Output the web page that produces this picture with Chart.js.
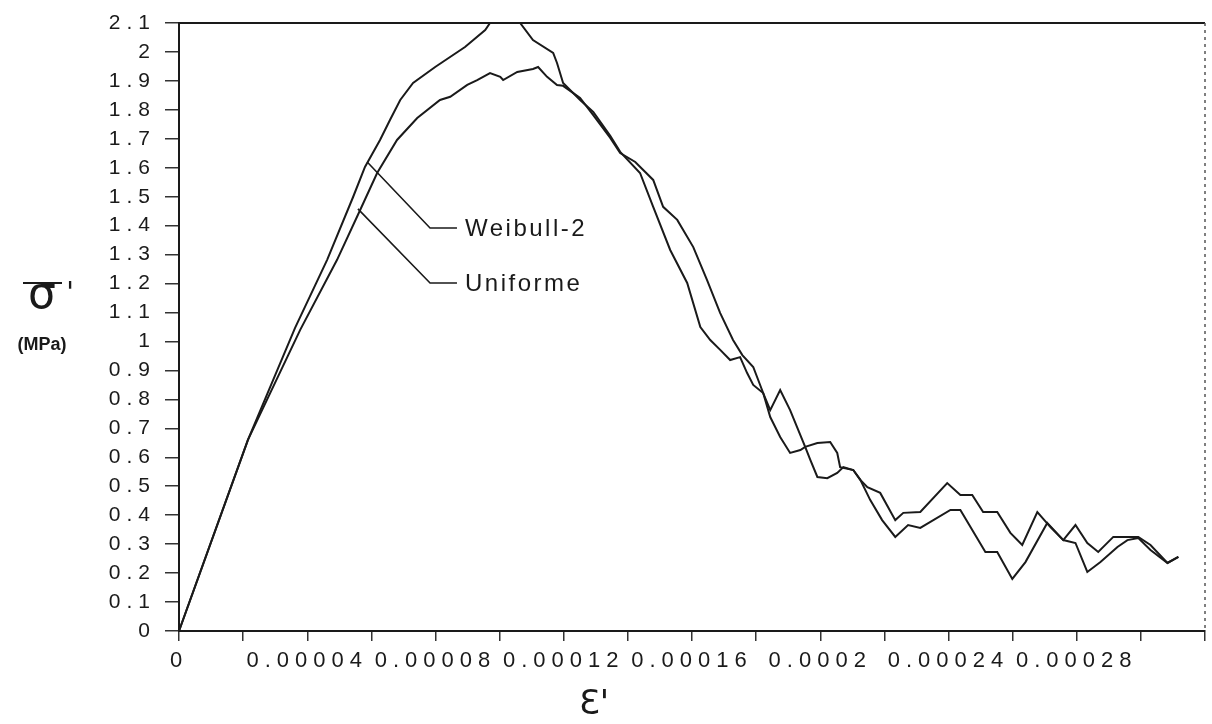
<!DOCTYPE html>
<html>
<head>
<meta charset="utf-8">
<title>Contrainte moyenne - déformation</title>
<script src="https://cdn.jsdelivr.net/npm/chart.js@4.4.1/dist/chart.umd.min.js"></script>
<style>
  html, body { margin: 0; padding: 0; background: #fff; }
  #wrap { width: 1212px; height: 724px; }
</style>
</head>
<body>
<div id="wrap"><canvas id="stressStrain" width="1212" height="724"></canvas></div>
<script>
// strain (x) and mean stress in MPa (y) for each strength distribution
const weibullStrain = [0, 21.5e-6, 36.2e-6, 46.2e-6, 54.3e-6, 58.0e-6, 62.7e-6, 65.8e-6, 69.0e-6, 73.0e-6,
    79.9e-6, 89.2e-6, 95.5e-6, 97.0e-6, 103.3e-6, 106.4e-6, 110.4e-6, 116.7e-6, 117.9e-6, 119.8e-6,
    125.1e-6, 129.2e-6, 134.5e-6, 137.6e-6, 143.8e-6, 147.9e-6, 153.2e-6, 158.5e-6, 162.6e-6, 165.7e-6,
    168.8e-6, 171.9e-6, 175.0e-6, 177.2e-6, 179.1e-6, 182.2e-6, 184.4e-6, 187.5e-6, 190.6e-6, 195.3e-6,
    196.9e-6, 199.1e-6, 202.2e-6, 205.3e-6, 207.2e-6, 210.3e-6, 212.5e-6, 214.7e-6, 218.7e-6, 223.4e-6,
    225.9e-6, 231.2e-6, 239.6e-6, 243.7e-6, 247.4e-6, 250.8e-6, 255.2e-6, 259.3e-6, 263.0e-6, 267.7e-6,
    271.8e-6, 275.8e-6, 279.6e-6, 283.3e-6, 286.7e-6, 291.4e-6, 299.2e-6, 303.0e-6, 308.3e-6, 311.7e-6];
const weibullStress = [0, 0.66, 1.047, 1.282, 1.499, 1.603, 1.696, 1.765, 1.834, 1.893,
    1.948, 2.017, 2.076, 2.10, 2.10, 2.10, 2.041, 1.997, 1.962, 1.893,
    1.834, 1.793, 1.710, 1.655, 1.582, 1.465, 1.316, 1.202, 1.050, 1.005,
    0.971, 0.936, 0.946, 0.891, 0.850, 0.822, 0.763, 0.832, 0.763, 0.636,
    0.591, 0.532, 0.528, 0.546, 0.566, 0.556, 0.522, 0.497, 0.477, 0.383,
    0.408, 0.411, 0.511, 0.470, 0.470, 0.411, 0.411, 0.339, 0.297, 0.411,
    0.359, 0.314, 0.366, 0.304, 0.273, 0.325, 0.325, 0.297, 0.235, 0.256];

const uniformeStrain = [0, 21.5e-6, 37.8e-6, 49.3e-6, 56.5e-6, 61.8e-6, 68.0e-6, 74.3e-6, 81.4e-6, 84.6e-6,
    89.9e-6, 93.0e-6, 97.0e-6, 100.2e-6, 101.1e-6, 105.5e-6, 110.4e-6, 112.0e-6, 114.8e-6, 117.9e-6,
    119.8e-6, 125.1e-6, 129.2e-6, 134.5e-6, 137.6e-6, 142.3e-6, 147.9e-6, 151.0e-6, 155.4e-6, 160.4e-6,
    164.7e-6, 168.8e-6, 172.8e-6, 175.7e-6, 179.1e-6, 182.2e-6, 184.4e-6, 187.5e-6, 190.6e-6, 193.8e-6,
    195.3e-6, 199.1e-6, 203.1e-6, 205.3e-6, 206.2e-6, 210.3e-6, 212.5e-6, 215.6e-6, 219.3e-6, 223.4e-6,
    227.4e-6, 231.2e-6, 240.6e-6, 243.7e-6, 251.5e-6, 255.2e-6, 259.9e-6, 264.0e-6, 270.8e-6, 275.8e-6,
    279.6e-6, 283.3e-6, 287.4e-6, 292.7e-6, 295.8e-6, 299.2e-6, 303.0e-6, 308.3e-6, 311.7e-6];
const uniformeStress = [0, 0.66, 1.040, 1.282, 1.454, 1.582, 1.696, 1.772, 1.834, 1.845,
    1.886, 1.903, 1.927, 1.914, 1.903, 1.931, 1.941, 1.948, 1.914, 1.886,
    1.883, 1.841, 1.782, 1.703, 1.651, 1.620, 1.558, 1.465, 1.420, 1.326,
    1.212, 1.098, 1.005, 0.953, 0.912, 0.822, 0.739, 0.670, 0.615, 0.625,
    0.636, 0.649, 0.653, 0.615, 0.566, 0.556, 0.522, 0.452, 0.383, 0.325,
    0.366, 0.356, 0.418, 0.418, 0.273, 0.273, 0.180, 0.238, 0.373, 0.314,
    0.304, 0.204, 0.238, 0.290, 0.314, 0.321, 0.280, 0.235, 0.256];

const xTickLabels = ['0', '0.00004', '0.00008', '0.00012', '0.00016', '0.0002', '0.00024', '0.00028'];
const yTickLabels = ['0', '0.1', '0.2', '0.3', '0.4', '0.5', '0.6', '0.7', '0.8', '0.9', '1',
    '1.1', '1.2', '1.3', '1.4', '1.5', '1.6', '1.7', '1.8', '1.9', '2', '2.1'];

const seriesNames = ['Weibull-2', 'Uniforme'];
// leader lines: point on the curve -> elbow -> label, in data units
const calloutTip = [[58.7e-6, 1.62], [55.8e-6, 1.458]];
const calloutElbow = [[78.3e-6, 1.392], [78.3e-6, 1.202]];
const calloutTailEnd = 86.7e-6;
const calloutTextAt = 89.2e-6;

const ink = '#1a1a1a';
const labelFont = 'Liberation Sans, Arial, sans-serif';

function toPoints(xs, ys) {
    return xs.map((x, i) => ({ x: x, y: ys[i] }));
}

const framePlugin = {
    id: 'frame',
    beforeDraw(chart) {
        chart.ctx.letterSpacing = '6px';
    },
    beforeDatasetsDraw(chart) {
        const ctx = chart.ctx;
        const a = chart.chartArea;
        ctx.save();
        ctx.strokeStyle = ink;
        ctx.lineWidth = 2;
        ctx.beginPath();
        ctx.moveTo(a.left, a.top);
        ctx.lineTo(a.right, a.top);
        ctx.stroke();
        // right edge is a light dotted rule
        ctx.strokeStyle = '#555';
        ctx.lineWidth = 1.5;
        ctx.setLineDash([3, 4]);
        ctx.beginPath();
        ctx.moveTo(a.right, a.top);
        ctx.lineTo(a.right, a.bottom);
        ctx.stroke();
        ctx.restore();
    },
    afterDraw(chart) {
        const ctx = chart.ctx;
        const xs = chart.scales.x;
        const ys = chart.scales.y;
        ctx.save();
        ctx.strokeStyle = ink;
        ctx.fillStyle = ink;
        ctx.lineWidth = 1.6;
        ctx.textBaseline = 'middle';
        ctx.textAlign = 'left';
        ctx.font = '24px ' + labelFont;
        ctx.letterSpacing = '2.5px';
        seriesNames.forEach((name, i) => {
            const tx = xs.getPixelForValue(calloutTip[i][0]);
            const ty = ys.getPixelForValue(calloutTip[i][1]);
            const ex = xs.getPixelForValue(calloutElbow[i][0]);
            const ey = ys.getPixelForValue(calloutElbow[i][1]);
            ctx.beginPath();
            ctx.moveTo(tx, ty);
            ctx.lineTo(ex, ey);
            ctx.lineTo(xs.getPixelForValue(calloutTailEnd), ey);
            ctx.stroke();
            ctx.fillText(name, xs.getPixelForValue(calloutTextAt), ey + 1);
        });

        // axis titles: sigma with overbar and prime, unit, epsilon prime
        ctx.letterSpacing = '0px';
        ctx.textAlign = 'center';
        ctx.textBaseline = 'alphabetic';
        ctx.font = '44px DejaVu Sans';
        ctx.fillText('σ', 42, 308);
        ctx.lineWidth = 2;
        ctx.beginPath();
        ctx.moveTo(23, 283);
        ctx.lineTo(62, 283);
        ctx.stroke();
        ctx.font = '28px DejaVu Sans';
        ctx.fillText("'", 70, 302);

        ctx.font = 'bold 18px ' + labelFont;
        ctx.textBaseline = 'middle';
        ctx.fillText('(MPa)', 42, 345);

        ctx.textBaseline = 'alphabetic';
        ctx.font = '34px DejaVu Sans';
        ctx.fillText("Ɛ'", 594, 714);
        ctx.restore();
    }
};

const ctx = document.getElementById('stressStrain').getContext('2d');

new Chart(ctx, {
    type: 'line',
    data: {
        datasets: [
            {
                label: seriesNames[0],
                data: toPoints(weibullStrain, weibullStress),
                borderColor: ink,
                borderWidth: 2,
                pointRadius: 0,
                tension: 0,
                clip: false
            },
            {
                label: seriesNames[1],
                data: toPoints(uniformeStrain, uniformeStress),
                borderColor: ink,
                borderWidth: 2,
                pointRadius: 0,
                tension: 0,
                clip: false
            }
        ]
    },
    options: {
        responsive: false,
        animation: false,
        devicePixelRatio: 1,
        layout: { padding: { top: 23, right: 7, bottom: 0, left: 0 } },
        plugins: {
            legend: { display: false },
            tooltip: { enabled: false }
        },
        scales: {
            x: {
                type: 'linear',
                min: 0,
                max: 0.00032,
                afterFit: function(scale) { scale.height = 93; },
                ticks: {
                    stepSize: 0.00002,
                    autoSkip: false,
                    maxRotation: 0,
                    padding: 7,
                    color: ink,
                    font: { family: labelFont, size: 22 },
                    callback: function(value, index) {
                        return index % 2 === 0 ? (xTickLabels[index / 2] || '') : '';
                    }
                },
                grid: { drawOnChartArea: false, tickLength: 10, color: '#333', lineWidth: 1.5 },
                border: { color: ink, width: 2 }
            },
            y: {
                min: 0,
                max: 2.1,
                afterFit: function(scale) { scale.width = 179; },
                ticks: {
                    stepSize: 0.1,
                    padding: 9,
                    color: ink,
                    font: { family: labelFont, size: 21 },
                    callback: function(value, index) {
                        return yTickLabels[index];
                    }
                },
                grid: { drawOnChartArea: false, tickLength: 14, color: '#333', lineWidth: 1.5 },
                border: { color: ink, width: 2 }
            }
        }
    },
    plugins: [framePlugin]
});
</script>
</body>
</html>
